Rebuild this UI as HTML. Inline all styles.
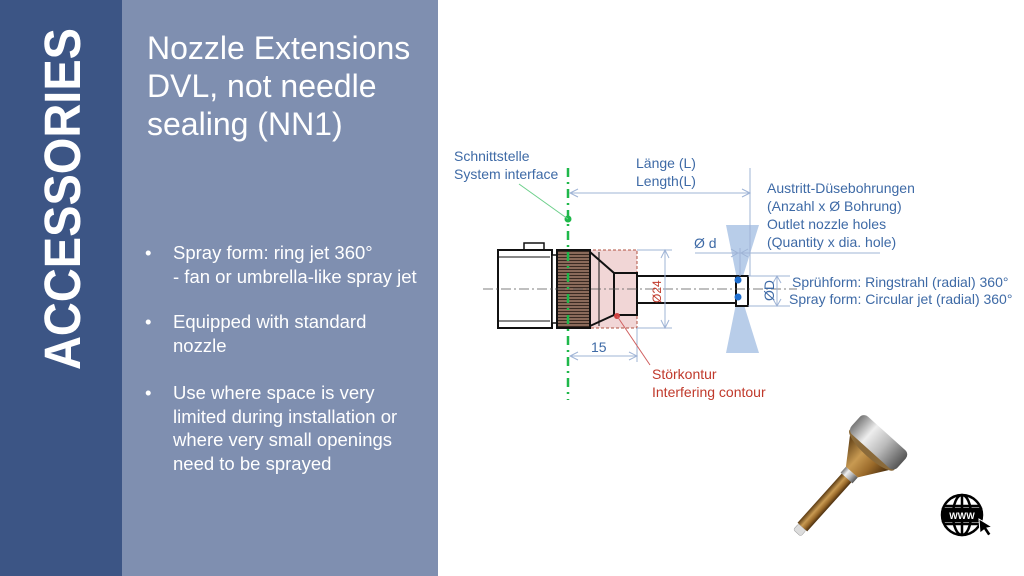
<!DOCTYPE html>
<html><head><meta charset="utf-8"><style>
html,body{margin:0;padding:0;}
body{width:1024px;height:576px;overflow:hidden;background:#fff;position:relative;font-family:"Liberation Sans",sans-serif;}
#dark{position:absolute;left:0;top:0;width:122px;height:576px;background:#3c5585;}
#mid{position:absolute;left:122px;top:0;width:316px;height:576px;background:#7f8fb0;}
.t{position:absolute;color:#fff;white-space:nowrap;}
</style></head><body>
<div id="dark"></div><div id="mid"></div>
<svg style="position:absolute;left:0;top:0" width="122" height="576">
<text transform="translate(80,370) rotate(-90)" font-family="Liberation Sans" font-weight="bold" font-size="51" fill="#fff" textLength="342" lengthAdjust="spacingAndGlyphs">ACCESSORIES</text>
</svg>
<div class="t" style="left:147px;top:29px;font-size:32px;line-height:38px;">Nozzle Extensions<br>DVL, not needle<br>sealing (NN1)</div>
<div class="t" style="left:145px;top:241px;font-size:18.5px;line-height:23.5px;">•</div>
<div class="t" style="left:173px;top:241px;font-size:18.5px;line-height:23.5px;">Spray form: ring jet 360°<br>- fan or umbrella-like spray jet</div>
<div class="t" style="left:145px;top:310px;font-size:18.5px;line-height:23.5px;">•</div>
<div class="t" style="left:173px;top:310px;font-size:18.5px;line-height:23.5px;">Equipped with standard<br>nozzle</div>
<div class="t" style="left:145px;top:381px;font-size:18.5px;line-height:23.5px;">•</div>
<div class="t" style="left:173px;top:381px;font-size:18.5px;line-height:23.5px;">Use where space is very<br>limited during installation or<br>where very small openings<br>need to be sprayed</div>

<svg style="position:absolute;left:0;top:0" width="1024" height="576" font-family="Liberation Sans" font-size="14">
<defs>
<pattern id="kn" width="4" height="3" patternUnits="userSpaceOnUse"><rect width="4" height="3" fill="#8a6a5a"/><rect y="2" width="4" height="1" fill="#3a2a22"/></pattern>
<linearGradient id="gold" x1="0" y1="0" x2="0" y2="1"><stop offset="0" stop-color="#5a3a12"/><stop offset="0.4" stop-color="#c89a52"/><stop offset="0.7" stop-color="#9a6a2a"/><stop offset="1" stop-color="#4a2e0e"/></linearGradient>
<linearGradient id="silv" x1="0" y1="0" x2="0" y2="1"><stop offset="0" stop-color="#777"/><stop offset="0.3" stop-color="#eee"/><stop offset="0.6" stop-color="#bbb"/><stop offset="1" stop-color="#555"/></linearGradient>
</defs>
<rect x="568" y="250" width="69" height="78" fill="#f1d6d6" stroke="#b05040" stroke-width="1" stroke-dasharray="3,2"/>
<polygon points="726,225 759,225 739,289" fill="#b8cde9"/>
<polygon points="726,353 759,353 739,289" fill="#b8cde9"/>
<rect x="524" y="243" width="20" height="7" fill="#fff" stroke="#111" stroke-width="1.5"/>
<rect x="498" y="250" width="54" height="78" fill="#fff" stroke="#111" stroke-width="2"/>
<line x1="499" y1="257" x2="550" y2="257" stroke="#111"/><line x1="499" y1="321" x2="550" y2="321" stroke="#111"/>
<rect x="552" y="255" width="5" height="68" fill="#fff" stroke="#111" stroke-width="1.5"/>
<rect x="557" y="250" width="33" height="78" fill="url(#kn)" stroke="#111" stroke-width="2"/>
<polygon points="590,252 614,273 614,315 590,326" fill="none" stroke="#111" stroke-width="2"/>
<line x1="599" y1="252" x2="599" y2="326" stroke="#111" stroke-width="1"/>
<rect x="614" y="273" width="23" height="42" fill="none" stroke="#111" stroke-width="2"/>
<rect x="637" y="276" width="99" height="27" fill="#fff" stroke="#111" stroke-width="2"/>
<rect x="736" y="276" width="12" height="30" fill="#fff" stroke="#111" stroke-width="2"/>
<circle cx="738" cy="280" r="3.5" fill="#1f6fd0"/><circle cx="738" cy="297" r="3.5" fill="#1f6fd0"/>
<line x1="483" y1="289" x2="797" y2="289" stroke="#555" stroke-width="0.8" stroke-dasharray="10,3,2,3"/>
<line x1="568" y1="168" x2="568" y2="400" stroke="#1fb84a" stroke-width="2.5" stroke-dasharray="9,5,2,5"/>
<circle cx="568" cy="219" r="3.5" fill="#1fb84a"/>
<line x1="519" y1="184" x2="568" y2="219" stroke="#6ccf8a" stroke-width="1"/>
<g stroke="#9fb4d6" stroke-width="1" fill="none">
<line x1="570" y1="193" x2="750" y2="193"/><polyline points="578,189 570,193 578,197"/><polyline points="742,189 750,193 742,197"/>
<line x1="750" y1="168" x2="750" y2="276"/>
<line x1="695" y1="253" x2="880" y2="253"/><polyline points="731,249 738,253 731,257"/><polyline points="748,249 741,253 748,257"/>
<line x1="740" y1="248" x2="740" y2="276"/>
<line x1="637" y1="250" x2="672" y2="250"/><line x1="637" y1="328" x2="672" y2="328"/>
<line x1="665" y1="250" x2="665" y2="328"/><polyline points="661,258 665,250 669,258"/><polyline points="661,320 665,328 669,320"/>
<line x1="748" y1="276" x2="790" y2="276"/><line x1="748" y1="306" x2="790" y2="306"/>
<line x1="777" y1="276" x2="777" y2="306"/><polyline points="773,283 777,276 781,283"/><polyline points="773,299 777,306 781,299"/>
<line x1="637" y1="328" x2="637" y2="362"/>
<line x1="570" y1="356" x2="637" y2="356"/><polyline points="578,352 570,356 578,360"/><polyline points="629,352 637,356 629,360"/>
</g>
<circle cx="617" cy="316" r="3" fill="#d04040"/>
<line x1="617" y1="316" x2="650" y2="365" stroke="#d06060" stroke-width="1"/>
<g fill="#3e6aa6">
<text x="454" y="161">Schnittstelle</text><text x="454" y="179">System interface</text>
<text x="636" y="168">Länge (L)</text><text x="636" y="186">Length(L)</text>
<text x="767" y="193">Austritt-Düsebohrungen</text><text x="767" y="211">(Anzahl x Ø Bohrung)</text>
<text x="767" y="229">Outlet nozzle holes</text><text x="767" y="247">(Quantity x dia. hole)</text>
<text x="694" y="248">Ø d</text>
<text x="792" y="287">Sprühform:  Ringstrahl (radial) 360°</text>
<text x="789" y="304">Spray form: Circular jet (radial) 360°</text>
<text x="591" y="352">15</text>
<text transform="translate(774,301) rotate(-90)">ØD</text>
</g>
<text transform="translate(661,303) rotate(-90)" fill="#c0392b" font-size="12">Ø24</text>
<g fill="#c0392b"><text x="652" y="379">Störkontur</text><text x="652" y="397">Interfering contour</text></g>
<g transform="translate(797,533) rotate(-48)">
<rect x="0" y="-5" width="8" height="10" rx="2" fill="#ddd" stroke="#999" stroke-width="0.5"/>
<rect x="8" y="-6.5" width="68" height="13" fill="url(#gold)"/>
<rect x="74" y="-8" width="8" height="16" fill="url(#silv)"/>
<polygon points="82,-8 108,-26 108,26 82,8" fill="url(#gold)"/>
<ellipse cx="112" cy="0" rx="8" ry="30" fill="#8a6a3a"/>
<rect x="110" y="-31" width="24" height="62" rx="6" fill="url(#silv)"/>
</g>
<g transform="translate(962,515)" fill="none" stroke="#000" stroke-width="2.5">
<circle r="20"/><ellipse rx="9" ry="20"/><line x1="0" y1="-20" x2="0" y2="-6"/><line x1="0" y1="6" x2="0" y2="20"/>
<line x1="-18" y1="-9" x2="18" y2="-9"/><line x1="-18" y1="9" x2="18" y2="9"/>
<rect x="-19" y="-6" width="38" height="12" fill="#000"/>
</g>
<text x="962" y="519" text-anchor="middle" fill="#fff" font-size="9" font-weight="bold">WWW</text>
<polygon points="979,519 992,527 987,528 991,534 988,536 984,530 980,533" fill="#000" stroke="#fff" stroke-width="1"/>
</svg>
</body></html>
